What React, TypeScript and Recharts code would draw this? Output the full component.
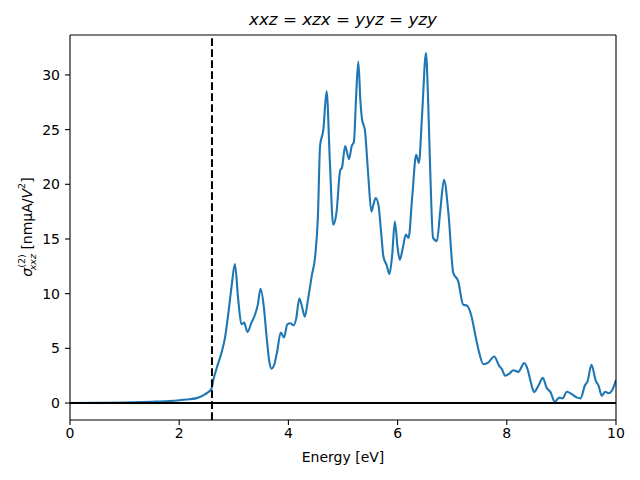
import { LineChart, Line, XAxis, YAxis, ReferenceLine } from "recharts";

const energy = [
  0, 0.5, 1.0, 1.5, 1.8, 2.0, 2.14, 2.32, 2.44, 2.52, 2.59, 2.63, 2.69, 2.78, 2.84, 2.9, 2.96,
  3.02, 3.08, 3.14, 3.19, 3.25, 3.32, 3.39, 3.44, 3.49, 3.55, 3.6, 3.65, 3.69, 3.74, 3.79, 3.86,
  3.92, 3.98, 4.04, 4.09, 4.14, 4.2, 4.25, 4.3, 4.36, 4.43, 4.49, 4.54, 4.58, 4.64, 4.7, 4.76,
  4.82, 4.88, 4.95, 4.98, 5.04, 5.11, 5.16, 5.2, 5.24, 5.28, 5.32, 5.35, 5.4, 5.46, 5.52, 5.56,
  5.6, 5.65, 5.7, 5.74, 5.8, 5.85, 5.9, 5.95, 6.0, 6.04, 6.1, 6.15, 6.2, 6.27, 6.34, 6.39, 6.45,
  6.52, 6.56, 6.59, 6.65, 6.72, 6.78, 6.85, 6.93, 7.02, 7.11, 7.2, 7.27, 7.36, 7.42, 7.48, 7.57,
  7.66, 7.77, 7.86, 7.91, 7.97, 8.05, 8.12, 8.21, 8.32, 8.38, 8.44, 8.5, 8.58, 8.66, 8.73, 8.8,
  8.88, 8.96, 9.02, 9.1, 9.19, 9.28, 9.35, 9.43, 9.48, 9.55, 9.63, 9.68, 9.74, 9.8, 9.86, 9.92, 10.0,
];

const sigma = [
  0.0, 0.02, 0.05, 0.12, 0.18, 0.25, 0.32, 0.45, 0.7, 0.95, 1.3, 2.2, 3.25, 4.7, 6.0, 8.2, 10.7,
  12.7, 9.5, 7.2, 7.35, 6.5, 7.3, 8.1, 9.0, 10.45, 8.8, 6.1, 3.8, 3.15, 3.5, 4.6, 6.45,
  6.0, 7.2, 7.3, 7.1, 7.65, 9.55, 8.8, 7.9, 9.5, 11.7, 13.4, 17, 23.5, 25.0, 28.5, 22,
  16.3, 17.4, 21.3, 21.5, 23.5, 22.3, 23.5, 23.9, 28, 31.2, 27.5, 25.9, 25.0, 21, 17.5, 18.2,
  18.75, 18.1, 15.5, 13.4, 12.6, 11.8, 13.5, 16.6, 14.2, 13.1, 14.3, 15.4, 15.1, 19, 22.7, 21.95, 26.5,
  32.0, 27.5, 22.5, 15.1, 14.8, 17.5, 20.4, 17.4, 11.9, 11.15, 9.0, 8.9, 7.8, 6.3, 4.9, 3.55,
  3.7, 4.25, 3.4, 3.1, 2.5, 2.7, 3.0, 2.85, 3.65, 3.1, 1.9, 1.0, 1.6, 2.3, 1.4, 1.0,
  0.12, 0.5, 0.43, 1.03, 0.82, 0.52, 0.43, 1.6, 2.0, 3.5, 2.03, 1.6, 0.67, 1.03, 0.9, 1.1, 2.1,
];

const xTicks = [0, 2, 4, 6, 8, 10];
const yTicks = [0, 5, 10, 15, 20, 25, 30];
const gapEnergy = 2.6;
const yMin = -1.55;
const yMax = 33.65;

const data = energy.map((e, i) => ({ energy: e, sigma: sigma[i] }));

const FONT = "'DejaVu Sans', sans-serif";

// rotated y label with stacked super/subscript like mathtext
function YLabel() {
  const cx = 27;
  const cy = 227;
  return (
    <text
      transform={`rotate(-90, ${cx}, ${cy})`}
      x={cx}
      y={cy}
      textAnchor="middle"
      dominantBaseline="central"
      fontFamily={FONT}
      fontSize={14}
      fill="#000"
    >
      <tspan fontStyle="italic">σ</tspan>
      <tspan fontSize={9.5} dy={-6}>(2)</tspan>
      <tspan fontSize={9.5} fontStyle="italic" dx={-16} dy={11}>xxz</tspan>
      <tspan dy={-5}> [nmμA/</tspan>
      <tspan fontStyle="italic">V</tspan>
      <tspan fontSize={9.5} dy={-6}>2</tspan>
      <tspan dy={6}>]</tspan>
    </text>
  );
}

export default function App() {
  return (
    <div style={{ position: "absolute", left: 0, top: 0, width: 640, height: 480, background: "#fff" }}>
      <div
        style={{
          position: "absolute",
          left: 70,
          top: 8,
          width: 546,
          textAlign: "center",
          fontFamily: FONT,
          fontSize: 16.7,
          lineHeight: "22px",
          color: "#000",
        }}
      >
        <i>xxz</i> = <i>xzx</i> = <i>yyz</i> = <i>yzy</i>
      </div>
      <LineChart width={640} height={480} data={data} margin={{ top: 35, right: 24, bottom: 0, left: 0 }}>
        <XAxis
          type="number"
          dataKey="energy"
          domain={[0, 10]}
          ticks={xTicks}
          allowDataOverflow
          height={60}
          stroke="#000"
          axisLine={{ stroke: "#000", strokeWidth: 1.1 }}
          tickLine={{ stroke: "#000", strokeWidth: 1.1 }}
          tickSize={5}
          tickMargin={3}
          tick={{ fill: "#000", fontSize: 14, fontFamily: FONT }}
          label={{ value: "Energy [eV]", position: "insideBottom", offset: 18, fill: "#000", fontSize: 14, fontFamily: FONT }}
        />
        <YAxis
          type="number"
          domain={[yMin, yMax]}
          ticks={yTicks}
          allowDataOverflow
          width={70}
          stroke="#000"
          axisLine={{ stroke: "#000", strokeWidth: 1.1 }}
          tickLine={{ stroke: "#000", strokeWidth: 1.1 }}
          tickSize={5}
          tickMargin={5}
          tick={{ fill: "#000", fontSize: 14, fontFamily: FONT }}
          label={<YLabel />}
        />
        <Line
          type="monotone"
          dataKey="sigma"
          stroke="#1f77b4"
          strokeWidth={2.1}
          dot={false}
          activeDot={false}
          isAnimationActive={false}
        />
        <ReferenceLine x={gapEnergy} stroke="#000" strokeWidth={2} strokeDasharray="7.7 3.3" />
        <ReferenceLine y={0} stroke="#000" strokeWidth={2} />
        <ReferenceLine y={yMax} stroke="#000" strokeWidth={1.1} />
        <ReferenceLine x={10} stroke="#000" strokeWidth={1.1} />
      </LineChart>
    </div>
  );
}
